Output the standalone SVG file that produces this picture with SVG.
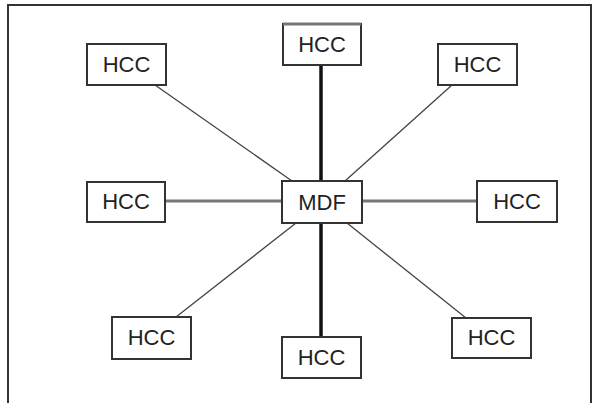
<svg xmlns="http://www.w3.org/2000/svg" width="597" height="403" viewBox="0 0 597 403">
<style>
.box{fill:#fff;stroke:#333;stroke-width:2}
.t{font-family:"Liberation Sans",Arial,sans-serif;font-size:22px;fill:#222;text-anchor:middle;dominant-baseline:central}
.thick{stroke:#111;stroke-width:3.5}
.mid{stroke:#777;stroke-width:3}
.thin{stroke:#444;stroke-width:1.3}
</style>
<rect width="597" height="403" fill="#fff"/>
<path d="M8 403 V5 H591 V403" fill="none" stroke="#333" stroke-width="2"/>
<g id="connectors">
<line class="thick" x1="321" y1="65" x2="321" y2="181"/>
<line class="thick" x1="321" y1="223" x2="321" y2="337"/>
<line class="mid" x1="165" y1="201" x2="282" y2="201"/>
<line class="mid" x1="362" y1="201" x2="477" y2="201"/>
<line class="thin" x1="155" y1="85" x2="292" y2="181"/>
<line class="thin" x1="452" y1="85" x2="345" y2="181"/>
<line class="thin" x1="296" y1="223" x2="176" y2="317"/>
<line class="thin" x1="347" y1="223" x2="466" y2="318"/>
</g>
<g id="mdf"><rect class="box" x="282" y="181" width="80" height="42"/><text class="t" x="322" y="202">MDF</text></g>
<g id="hcc-top"><rect class="box" x="283" y="24" width="78" height="41"/><line x1="283" y1="24" x2="361" y2="24" stroke="#777" stroke-width="3"/><text class="t" x="322" y="44">HCC</text></g>
<g id="hcc-top-left"><rect class="box" x="87" y="44" width="79" height="41"/><text class="t" x="126.5" y="64">HCC</text></g>
<g id="hcc-top-right"><rect class="box" x="438" y="44" width="79" height="41"/><text class="t" x="477.5" y="64">HCC</text></g>
<g id="hcc-left"><rect class="box" x="87" y="182" width="78" height="40"/><text class="t" x="126" y="201.5">HCC</text></g>
<g id="hcc-right"><rect class="box" x="477" y="181" width="80" height="41"/><text class="t" x="517" y="201">HCC</text></g>
<g id="hcc-bottom-left"><rect class="box" x="112" y="317" width="79" height="42"/><text class="t" x="151.5" y="337.5">HCC</text></g>
<g id="hcc-bottom"><rect class="box" x="282" y="337" width="79" height="41"/><text class="t" x="321.5" y="357">HCC</text></g>
<g id="hcc-bottom-right"><rect class="box" x="452" y="318" width="79" height="40"/><text class="t" x="491.5" y="337.5">HCC</text></g>
</svg>
